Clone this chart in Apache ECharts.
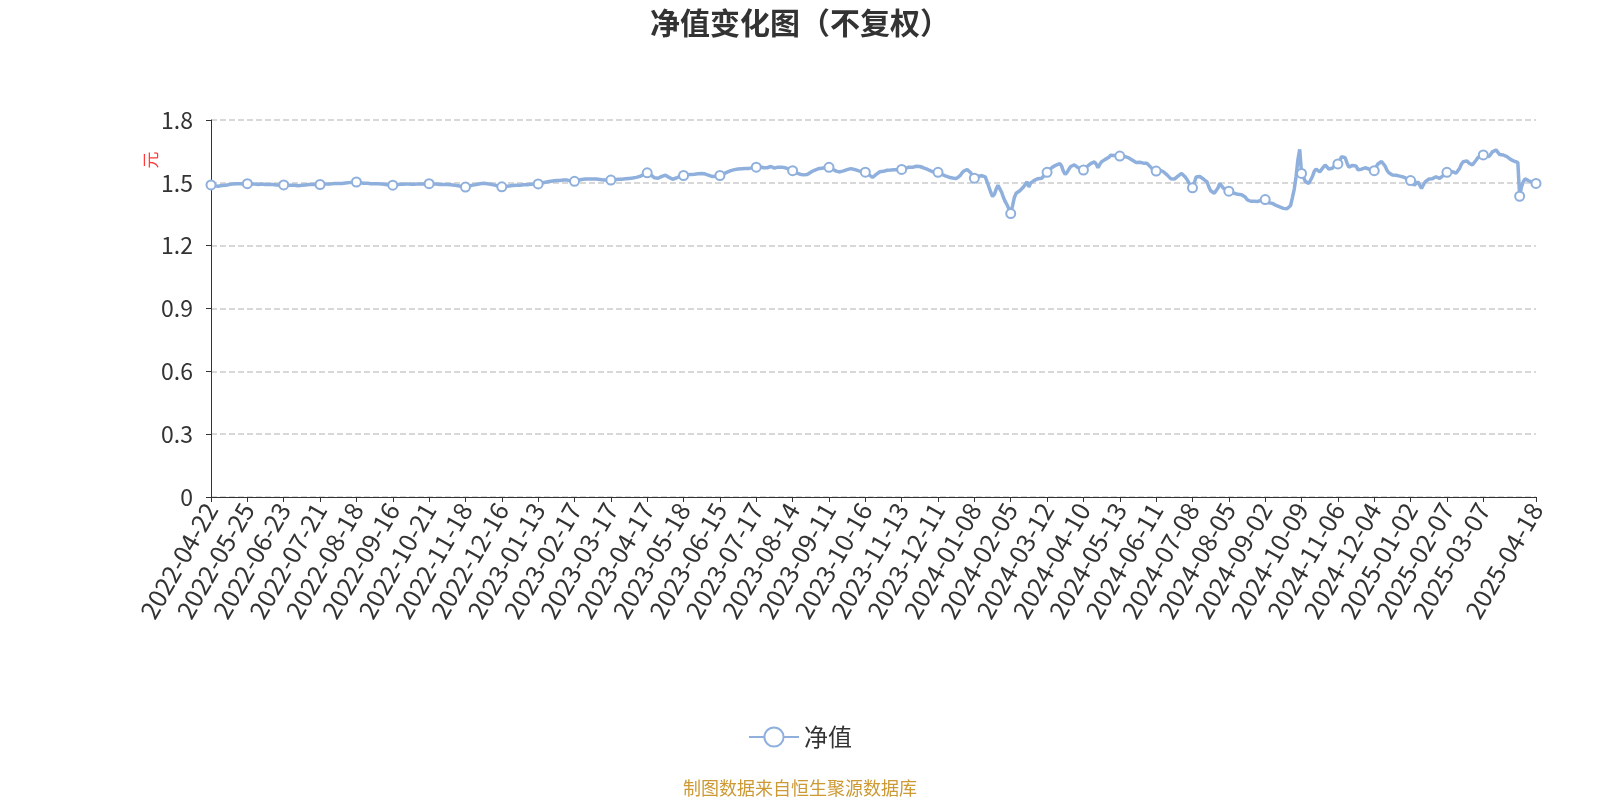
<!DOCTYPE html>
<html><head><meta charset="utf-8">
<script src="https://cdn.jsdelivr.net/npm/echarts@6/dist/echarts.min.js"></script>
<style>html,body{margin:0;padding:0;background:#fff}#c{width:1600px;height:800px}</style>
</head><body><div id="c"></div>
<script>
// Trading calendar (SSE/SZSE): weekdays minus exchange holidays, plus period-end NAV dates
const startDate = '2022-04-22';
const endDate = '2025-04-18';
const holidays = [
 '2022-05-02','2022-05-03','2022-05-04','2022-06-03','2022-09-12','2022-10-03','2022-10-04','2022-10-05','2022-10-06','2022-10-07',
 '2023-01-02','2023-01-23','2023-01-24','2023-01-25','2023-01-26','2023-01-27','2023-04-05','2023-05-01','2023-05-02','2023-05-03',
 '2023-06-22','2023-06-23','2023-09-29','2023-10-02','2023-10-03','2023-10-04','2023-10-05','2023-10-06',
 '2024-01-01','2024-02-09','2024-02-12','2024-02-13','2024-02-14','2024-02-15','2024-02-16','2024-04-04','2024-04-05',
 '2024-05-01','2024-05-02','2024-05-03','2024-06-10','2024-09-16','2024-09-17','2024-10-01','2024-10-02','2024-10-03','2024-10-04','2024-10-07',
 '2025-01-01','2025-01-28','2025-01-29','2025-01-30','2025-01-31','2025-02-03','2025-02-04','2025-04-04'
];
const extraDates = ['2022-12-31','2023-09-30','2023-12-31','2024-03-31','2024-06-30'];

// 单位净值（元）
const navValues = [
 1.490,1.488,1.486,1.485,1.484,1.485,1.487,1.486,1.488,1.490,1.492,1.494,1.495,1.494,1.496,1.495,1.496,1.494,1.495,1.496,
 1.496,1.495,1.494,1.493,1.494,1.493,1.492,1.493,1.494,1.493,1.492,1.491,1.492,1.493,1.492,1.491,1.490,1.491,1.490,1.491,
 1.490,1.489,1.488,1.487,1.488,1.487,1.488,1.487,1.486,1.487,1.488,1.489,1.490,1.491,1.492,1.493,1.492,1.493,1.492,1.493,
 1.492,1.493,1.494,1.495,1.495,1.496,1.495,1.496,1.497,1.496,1.497,1.498,1.497,1.498,1.499,1.500,1.501,1.502,1.503,1.503,
 1.504,1.502,1.500,1.499,1.498,1.497,1.498,1.497,1.496,1.497,1.496,1.495,1.496,1.495,1.494,1.493,1.492,1.491,1.490,1.490,
 1.489,1.490,1.491,1.492,1.493,1.494,1.493,1.494,1.495,1.494,1.493,1.494,1.493,1.494,1.495,1.494,1.495,1.496,1.495,1.496,
 1.496,1.495,1.494,1.493,1.494,1.493,1.492,1.493,1.492,1.491,1.492,1.492,1.491,1.490,1.489,1.488,1.486,1.484,1.482,1.481,
 1.480,1.482,1.485,1.487,1.489,1.490,1.492,1.494,1.496,1.497,1.498,1.497,1.496,1.495,1.493,1.491,1.489,1.487,1.485,1.483,
 1.481,1.481,1.482,1.484,1.485,1.486,1.487,1.488,1.489,1.490,1.489,1.490,1.491,1.490,1.491,1.492,1.493,1.494,1.494,1.495,
 1.495,1.497,1.499,1.501,1.503,1.505,1.506,1.507,1.509,1.510,1.511,1.512,1.511,1.512,1.513,1.514,1.513,1.511,1.509,1.508,
 1.507,1.509,1.512,1.514,1.516,1.517,1.518,1.517,1.518,1.519,1.518,1.517,1.518,1.517,1.516,1.515,1.514,1.513,1.514,1.513,
 1.513,1.514,1.515,1.516,1.517,1.518,1.517,1.518,1.519,1.520,1.521,1.522,1.523,1.524,1.526,1.528,1.531,1.535,1.540,1.545,
 1.548,1.545,1.538,1.530,1.524,1.521,1.522,1.526,1.531,1.535,1.536,1.532,1.526,1.520,1.517,1.519,1.523,1.527,1.531,1.534,
 1.535,1.537,1.539,1.540,1.540,1.540,1.541,1.542,1.543,1.544,1.545,1.544,1.542,1.539,1.536,1.533,1.530,1.529,1.531,1.533,
 1.535,1.539,1.543,1.547,1.551,1.555,1.558,1.561,1.563,1.565,1.566,1.565,1.567,1.566,1.568,1.567,1.569,1.570,1.572,1.574,
 1.575,1.576,1.577,1.575,1.572,1.570,1.572,1.576,1.578,1.574,1.570,1.572,1.575,1.576,1.575,1.573,1.572,1.569,1.565,1.561,
 1.558,1.553,1.548,1.544,1.541,1.539,1.538,1.537,1.540,1.545,1.551,1.556,1.560,1.564,1.567,1.569,1.570,1.571,1.572,1.573,
 1.574,1.570,1.565,1.560,1.556,1.553,1.552,1.554,1.557,1.560,1.563,1.566,1.568,1.567,1.564,1.561,1.558,1.555,1.553,1.552,
 1.551,1.546,1.538,1.530,1.526,1.532,1.540,1.548,1.553,1.556,1.555,1.558,1.560,1.559,1.561,1.562,1.563,1.562,1.563,1.564,
 1.564,1.566,1.569,1.572,1.575,1.576,1.574,1.577,1.579,1.580,1.578,1.575,1.572,1.569,1.565,1.561,1.557,1.553,1.550,1.552,
 1.550,1.546,1.541,1.537,1.533,1.530,1.527,1.525,1.523,1.521,1.520,1.524,1.533,1.545,1.555,1.562,1.564,1.560,1.548,1.532,
 1.522,1.525,1.532,1.536,1.534,1.530,1.528,1.505,1.480,1.455,1.435,1.445,1.470,1.488,1.480,1.455,1.430,1.410,1.395,1.375,
 1.353,1.390,1.430,1.450,1.458,1.462,1.470,1.480,1.492,1.505,1.480,1.500,1.508,1.512,1.515,1.520,1.518,1.522,1.530,1.540,
 1.550,1.560,1.568,1.575,1.580,1.585,1.590,1.592,1.580,1.555,1.540,1.550,1.565,1.578,1.585,1.586,1.580,1.573,1.567,1.563,
 1.561,1.568,1.578,1.574,1.592,1.601,1.600,1.590,1.572,1.588,1.601,1.608,1.612,1.617,1.622,1.632,1.633,1.630,1.627,1.628,
 1.628,1.626,1.624,1.625,1.622,1.619,1.617,1.608,1.600,1.597,1.596,1.598,1.596,1.594,1.595,1.593,1.585,1.575,1.565,1.559,
 1.556,1.558,1.561,1.557,1.553,1.548,1.538,1.529,1.520,1.516,1.518,1.525,1.532,1.537,1.545,1.540,1.528,1.516,1.500,1.485,
 1.476,1.500,1.528,1.537,1.530,1.522,1.518,1.512,1.505,1.480,1.462,1.455,1.450,1.452,1.475,1.497,1.490,1.475,1.468,1.462,
 1.460,1.458,1.455,1.450,1.447,1.445,1.447,1.443,1.440,1.432,1.420,1.415,1.412,1.410,1.412,1.409,1.411,1.414,1.418,1.420,
 1.420,1.415,1.405,1.400,1.402,1.398,1.392,1.388,1.385,1.380,1.378,1.382,1.376,1.378,1.392,1.430,1.470,1.530,1.610,1.660,
 1.545,1.530,1.508,1.500,1.497,1.505,1.530,1.555,1.566,1.560,1.552,1.560,1.575,1.585,1.578,1.566,1.562,1.570,1.580,1.586,
 1.590,1.605,1.625,1.633,1.620,1.595,1.575,1.570,1.583,1.590,1.580,1.563,1.562,1.565,1.568,1.572,1.570,1.566,1.562,1.559,
 1.558,1.575,1.590,1.598,1.602,1.595,1.580,1.560,1.548,1.540,1.537,1.538,1.536,1.534,1.532,1.530,1.528,1.525,1.520,1.515,
 1.511,1.500,1.488,1.495,1.505,1.490,1.473,1.480,1.505,1.512,1.518,1.522,1.520,1.526,1.529,1.525,1.521,1.525,1.535,1.545,
 1.550,1.552,1.554,1.553,1.548,1.546,1.552,1.570,1.590,1.601,1.609,1.605,1.595,1.586,1.585,1.590,1.608,1.620,1.628,1.632,
 1.633,1.630,1.628,1.625,1.635,1.648,1.655,1.657,1.650,1.635,1.630,1.633,1.632,1.625,1.617,1.612,1.608,1.603,1.601,1.598,
 1.436,1.480,1.505,1.519,1.515,1.510,1.506,1.502,1.498,1.497
];

const yMin = 0, yMax = 1.8, yStep = 0.3;

function buildDates() {
  const out = [];
  const hs = new Set(holidays), ex = new Set(extraDates);
  let d = new Date(startDate + 'T00:00:00Z');
  const end = new Date(endDate + 'T00:00:00Z');
  while (d <= end) {
    const s = d.toISOString().slice(0, 10);
    const wd = d.getUTCDay();
    if ((wd !== 0 && wd !== 6 && !hs.has(s)) || ex.has(s)) out.push(s);
    d = new Date(d.getTime() + 86400000);
  }
  return out;
}
const dates = buildDates();

const lineColor = '#8fb0dd';
const chart = echarts.init(document.getElementById('c'));
chart.setOption({
  backgroundColor: '#fff',
  animation: false,
  textStyle: { fontFamily: "'Noto Sans CJK SC', 'Noto Sans', sans-serif" },
  title: {
    text: '净值变化图（不复权）', left: 'center', top: 3,
    textStyle: { fontSize: 30, fontWeight: 'bold', color: '#333' }
  },
  grid: { left: 211, right: 64, top: 120, bottom: 303 },
  legend: {
    data: ['净值'], left: 'center', top: 720,
    itemWidth: 50, itemHeight: 24, itemGap: 10,
    textStyle: { fontSize: 24, color: '#333' }
  },
  xAxis: {
    type: 'category', boundaryGap: false, data: dates,
    axisLine: { lineStyle: { color: '#333' } },
    axisTick: { show: true, interval: 19, lineStyle: { color: '#333' } },
    axisLabel: { interval: 19, rotate: 60, fontSize: 25, color: '#333', showMaxLabel: true, margin: 8 }
  },
  yAxis: {
    type: 'value', min: yMin, max: yMax, interval: yStep,
    axisLine: { show: true, lineStyle: { color: '#333' } },
    axisTick: { show: true, lineStyle: { color: '#333' } },
    axisLabel: { fontSize: 23, color: '#333', margin: 18 },
    splitLine: { lineStyle: { type: 'dashed', color: '#ccc', width: 1.5 } }
  },
  graphic: [
    { type: 'text', x: 151, y: 160, rotation: Math.PI / 2,
      style: { text: '元', fill: '#ff3b3b', fontSize: 17, align: 'center', verticalAlign: 'middle',
               fontFamily: "'Noto Sans CJK SC', sans-serif" } },
    { type: 'text', left: 'center', top: 779,
      style: { text: '制图数据来自恒生聚源数据库', fill: '#cc9933', fontSize: 18,
               fontFamily: "'Noto Sans CJK SC', sans-serif" } }
  ],
  series: [{
    name: '净值', type: 'line', data: navValues,
    symbol: 'emptyCircle', symbolSize: 9, showSymbol: true,
    lineStyle: { width: 3.5, color: lineColor },
    itemStyle: { color: lineColor, borderWidth: 2 }
  }]
});
</script></body></html>
